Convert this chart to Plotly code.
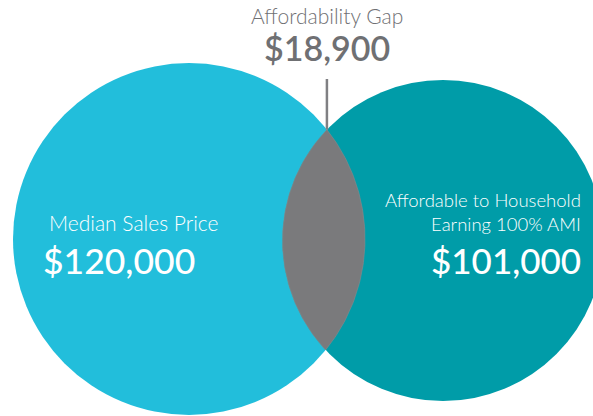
import numpy as np
import plotly.graph_objects as go

# values shown in the diagram
labels = ["Median Sales Price", "Affordable to Household<br>Earning 100% AMI"]
values = [120000, 101000]
gap_label = "Affordability Gap"
gap_value = 18900

# circle geometry in pixel space (x right, y down)
c1 = (189.0, 239.0, 176.0)
c2 = (443.0, 240.5, 160.5)
col1 = "#22bedb"
col2 = "#009ca8"
col_gap = "#7a7a7c"
grey_text = "#6f7073"


def intersections(a, b):
    x1, y1, r1 = a
    x2, y2, r2 = b
    d = np.hypot(x2 - x1, y2 - y1)
    l = (r1 ** 2 - r2 ** 2 + d ** 2) / (2 * d)
    h = np.sqrt(r1 ** 2 - l ** 2)
    ux, uy = (x2 - x1) / d, (y2 - y1) / d
    px, py = x1 + l * ux, y1 + l * uy
    return (px + h * uy, py - h * ux), (px - h * uy, py + h * ux)


p_top, p_bot = intersections(c1, c2)
if p_top[1] > p_bot[1]:
    p_top, p_bot = p_bot, p_top

# right side of lens: arc of the left circle
a0 = np.arctan2(p_top[1] - c1[1], p_top[0] - c1[0])
a1 = np.arctan2(p_bot[1] - c1[1], p_bot[0] - c1[0])
t1 = np.linspace(a0, a1, 80)
ax1 = c1[0] + c1[2] * np.cos(t1)
ay1 = c1[1] + c1[2] * np.sin(t1)

# left side of lens: arc of the right circle
a2_from = np.arctan2(p_bot[1] - c2[1], p_bot[0] - c2[0])
a2_to = np.arctan2(p_top[1] - c2[1], p_top[0] - c2[0])
if a2_to < a2_from:
    a2_to += 2 * np.pi
t2 = np.linspace(a2_from, a2_to, 80)
ax2 = c2[0] + c2[2] * np.cos(t2)
ay2 = c2[1] + c2[2] * np.sin(t2)

fig = go.Figure()

for (cx, cy, r), col in [(c1, col1), (c2, col2)]:
    fig.add_shape(type="circle", xref="x", yref="y",
                  x0=cx - r, x1=cx + r, y0=cy - r, y1=cy + r,
                  fillcolor=col, line=dict(width=0), layer="below")

fig.add_trace(go.Scatter(
    x=np.concatenate([ax1, ax2]), y=np.concatenate([ay1, ay2]),
    mode="lines", fill="toself", fillcolor=col_gap,
    line=dict(color="#8a8a8c", width=0.6),
    hoverinfo="none", showlegend=False,
))

# pointer line from the gap label to the lens
fig.add_trace(go.Scatter(
    x=[p_top[0], p_top[0]], y=[79, p_top[1]],
    mode="lines", line=dict(color="#808083", width=2.5),
    hoverinfo="none", showlegend=False,
))

font = "Lato, 'Open Sans', sans-serif"


def money(v):
    return "${:,}".format(v)


ann = [
    dict(x=p_top[0], y=15, text=gap_label,
         font=dict(size=21, color=grey_text, weight=300), xanchor="center"),
    dict(x=p_top[0], y=47, text=money(gap_value),
         font=dict(size=34, color=grey_text, weight=600), xanchor="center"),
    dict(x=47, y=222, text=labels[0],
         font=dict(size=21, color="white", weight=300), xanchor="left"),
    dict(x=41, y=260, text=money(values[0]),
         font=dict(size=35.5, color="white", weight=500), xanchor="left"),
    dict(x=583, y=212, text=labels[1],
         font=dict(size=18.5, color="white", weight=300),
         xanchor="right", align="right"),
    dict(x=583, y=260, text=money(values[1]),
         font=dict(size=35, color="white", weight=500), xanchor="right"),
]
for a in ann:
    fig.add_annotation(xref="x", yref="y", showarrow=False, yanchor="middle", **a)

fig.update_layout(
    width=593, height=416,
    margin=dict(l=0, r=0, t=0, b=0),
    paper_bgcolor="white", plot_bgcolor="white",
    font=dict(family=font),
    xaxis=dict(range=[0, 593], visible=False, fixedrange=True),
    yaxis=dict(range=[416, 0], visible=False, fixedrange=True),
    showlegend=False,
)

fig.write_html("out.html", config={"displayModeBar": False},
               post_script="document.body.style.margin='0';")
